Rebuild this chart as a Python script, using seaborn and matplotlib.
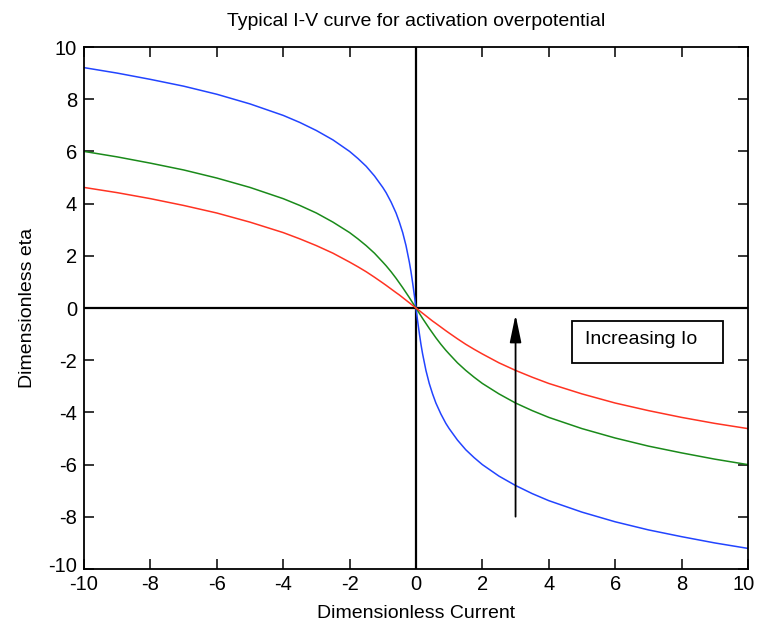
import numpy as np
import pandas as pd
import matplotlib
matplotlib.use("Agg")
import matplotlib.pyplot as plt
import matplotlib.transforms as mtransforms
import seaborn as sns
from matplotlib.patches import Rectangle

# ------------------------------
# Data
# ------------------------------

# positive half of the current axis (curves are odd-symmetric about the origin)
current_pos = [0.02, 0.05, 0.1, 0.15, 0.2, 0.3, 0.4, 0.5, 0.6, 0.75, 0.9, 1, 1.25, 1.5, 1.75,
               2, 2.5, 3, 3.5, 4, 5, 6, 7, 8, 9, 10]

# magnitude of eta on the positive side (eta is negative there)
blue_pos = [0.20, 0.50, 0.96, 1.39, 1.76, 2.39, 2.89, 3.29, 3.64, 4.06, 4.42, 4.62, 5.06, 5.43, 5.73,
            6.00, 6.44, 6.80, 7.11, 7.38, 7.82, 8.19, 8.50, 8.76, 9.00, 9.21]
green_pos = [0.04, 0.10, 0.20, 0.30, 0.40, 0.59, 0.78, 0.96, 1.14, 1.39, 1.62, 1.76, 2.10, 2.39, 2.65,
             2.89, 3.29, 3.64, 3.93, 4.19, 4.62, 4.98, 5.29, 5.55, 5.79, 6.00]
red_pos = [0.02, 0.05, 0.10, 0.15, 0.20, 0.30, 0.40, 0.50, 0.59, 0.73, 0.87, 0.96, 1.18, 1.39, 1.58,
           1.76, 2.10, 2.39, 2.65, 2.89, 3.29, 3.64, 3.93, 4.19, 4.42, 4.62]

ticks = [-10, -8, -6, -4, -2, 0, 2, 4, 6, 8, 10]


def full_curve(mag):
    return list(mag[::-1]) + [0] + [-v for v in mag]


current = [-v for v in current_pos[::-1]] + [0] + current_pos
n = len(current)

df = pd.DataFrame({
    "current": current * 3,
    "eta": full_curve(blue_pos) + full_curve(green_pos) + full_curve(red_pos),
    "curve": ["blue"] * n + ["green"] * n + ["red"] * n,
})

# ------------------------------
# Plot
# ------------------------------

sns.set_style("ticks")
plt.rcParams["font.family"] = ["Liberation Sans", "DejaVu Sans"]
plt.rcParams["axes.unicode_minus"] = False
plt.rcParams["text.color"] = "black"
plt.rcParams["axes.labelcolor"] = "black"

fig = plt.figure(figsize=(7.57, 6.21), dpi=100)
ax = fig.add_axes([0.111, 0.0837, 0.877, 0.8406])

sns.lineplot(data=df, x="current", y="eta", hue="curve",
             palette={"blue": "#2244ff", "green": "#1a8a1a", "red": "#ff3322"},
             estimator=None, sort=False, linewidth=1.1, legend=False, ax=ax)

ax.axhline(0, color="k", lw=1.6, zorder=1)
ax.axvline(0, color="k", lw=1.6, zorder=1)

ax.set_xlim(-10, 10)
ax.set_ylim(-10, 10)
ax.set_xticks(ticks)
ax.set_yticks(ticks)
ax.tick_params(direction="in", top=True, right=True, length=7, width=1.1, labelsize=14.5,
               colors="k")
ax.tick_params(axis="x", pad=4)
ax.tick_params(axis="y", pad=5)
for s in ax.spines.values():
    s.set_linewidth(1.3)
    s.set_color("k")

ax.set_title("Typical I-V curve for activation overpotential", fontsize=14, pad=15)
ax.set_xlabel("Dimensionless Current", fontsize=14, labelpad=8)
ax.set_ylabel("Dimensionless eta", fontsize=14, labelpad=9)

# small nudges so the corner tick labels stay clear of each other and the edge
fig.canvas.draw()
ylab = ax.get_yticklabels()[0]
ylab.set_transform(ylab.get_transform() + mtransforms.ScaledTranslation(0, 3 / 72, fig.dpi_scale_trans))
xlab = ax.get_xticklabels()[-1]
xlab.set_transform(xlab.get_transform() + mtransforms.ScaledTranslation(-3 / 72, 0, fig.dpi_scale_trans))

# arrow and label
ax.annotate("", xy=(3, -0.15), xytext=(3, -8.1),
            arrowprops=dict(arrowstyle="-|>,head_length=1.2,head_width=0.25",
                            color="k", lw=1.3, mutation_scale=14))
ax.add_patch(Rectangle((4.7, -2.1), 4.55, 1.6, fill=True, fc="white", ec="k", lw=1.3, zorder=3))
ax.text(5.1, -1.2, "Increasing Io", fontsize=14, va="center", ha="left", zorder=4)

plt.savefig("out.png", dpi=100)
